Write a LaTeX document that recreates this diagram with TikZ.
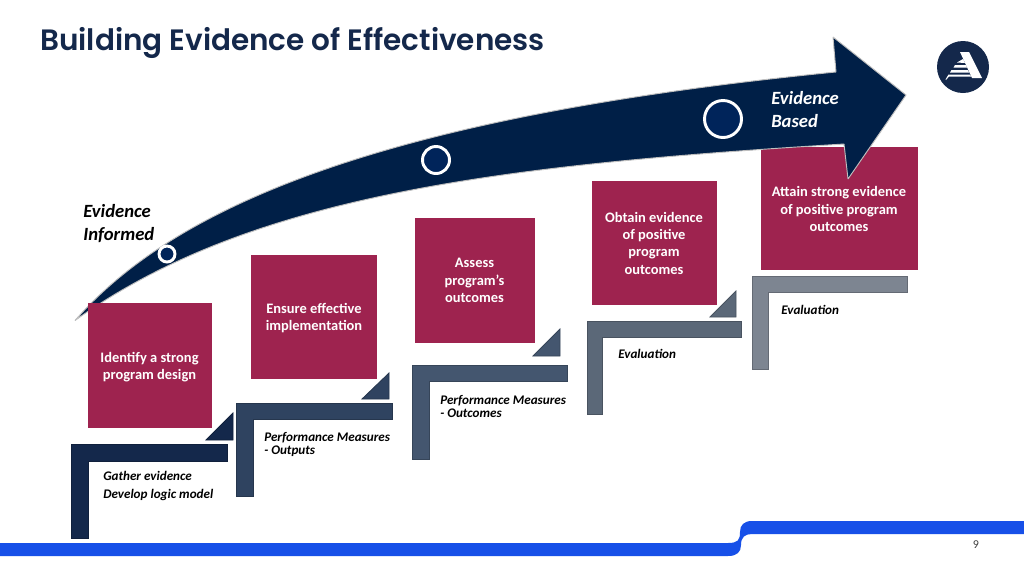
\documentclass[tikz,border=0pt]{standalone}
\usepackage{fontspec}
\setmainfont{Carlito}
\newfontfamily\titlefont{Poppins}[BoldFont={Poppins SemiBold}]
\definecolor{navy}{HTML}{001F47}
\definecolor{ttl}{HTML}{14284B}
\definecolor{wine}{HTML}{9E234F}
\definecolor{band}{HTML}{1750E8}
\definecolor{stepa}{HTML}{14284B}
\definecolor{stepb}{HTML}{2F4360}
\definecolor{stepc}{HTML}{44566F}
\definecolor{stepd}{HTML}{5B6878}
\definecolor{stepe}{HTML}{7D8591}
\definecolor{dotfill}{HTML}{00245A}
\tikzset{
  box/.style={fill=wine},
  boxtext/.style={text=white,font=\fontsize{10.85}{13}\selectfont\bfseries,align=center},
  steplabel/.style={text=black,font=\fontsize{9.85}{9.8}\selectfont\bfseries\itshape,align=left,anchor=north west,inner sep=0pt},
  biglabel/.style={font=\fontsize{14}{17.3}\selectfont\bfseries\itshape,align=left,anchor=north west,inner sep=0pt},
  dot/.style={draw=white,line width=2.2pt,fill=dotfill},
  ell/.style={fill=#1,draw=#1!80!black,line width=.6pt},
}
\begin{document}
\begin{tikzpicture}[x=0.75pt,y=-0.75pt]
\useasboundingbox (0,0) rectangle (1024,576);
\fill[white] (0,0) rectangle (1024,576);
% title
\node[anchor=west,inner sep=0pt,text=ttl,font=\titlefont\fontsize{22.1}{26}\selectfont\bfseries] (title) at (40,43) {Building Evidence of Effectiveness};
% bottom band
\fill[band] (0,543) -- (728,543) .. controls (738,543) and (740,540) .. (740,532) .. controls (740,525) and (744,521) .. (752,521) -- (1024,521) -- (1024,534) -- (752,534) .. controls (745,534) and (741,537) .. (741,545) .. controls (741,552) and (737,556) .. (728,556) -- (0,556) -- cycle;
\node[font=\fontsize{9}{11}\selectfont,text=black!75] (pageno) at (976,544.5) {9};
% red boxes behind the arrow
\fill[box] (251,255) rectangle (377,379);
\fill[box] (415,218) rectangle (535,343);
\fill[box] (592,181) rectangle (717,305);
\fill[box] (761,147) rectangle (918,270);
% arrow
\draw[fill=navy,draw=black!25,line width=.7pt,line join=bevel]
 (75,320.5) .. controls (180,200) and (400,115) .. (836,72) -- (833,37) -- (906,95) -- (848,179) -- (844,144) .. controls (500,165) and (250,195) .. (75,320.5) -- cycle;
\fill[box] (88,303) rectangle (212,428);
\node[boxtext] (b1) at (149.5,367) {Identify a strong\\program design};
\node[boxtext] (b2) at (314,318) {Ensure effective\\implementation};
\node[boxtext] (b3) at (474.5,280.5) {Assess\\program’s\\outcomes};
\node[boxtext] (b4) at (654,243) {Obtain evidence\\of positive\\program\\outcomes};
\node[boxtext] (b5) at (839,209) {Attain strong evidence\\of positive program\\outcomes};
\draw[dot] (167,254) circle (8);
\draw[dot] (436,160) circle (13.5);
\draw[dot] (723,119) circle (18.5);
\node[biglabel,text=white] (lbased) at (771,91) {Evidence\\Based};
\node[biglabel,text=black] (linformed) at (83,204) {Evidence\\Informed};
% steps
\path[ell=stepa] (71,444) -- (227,444) -- (227,461) -- (88,461) -- (88,538) -- (71,538) -- cycle;
\path[ell=stepa] (233,413) -- (233,440) -- (206,440) -- cycle;
\path[ell=stepb] (236,403) -- (392,403) -- (392,419) -- (253,419) -- (253,496) -- (236,496) -- cycle;
\path[ell=stepb] (389,373) -- (389,399) -- (362,399) -- cycle;
\path[ell=stepc] (412,365) -- (567,365) -- (567,381) -- (429,381) -- (429,459) -- (412,459) -- cycle;
\path[ell=stepc] (560,329) -- (560,356) -- (533,356) -- cycle;
\path[ell=stepd] (587,321) -- (741,321) -- (741,337) -- (602,337) -- (602,414) -- (587,414) -- cycle;
\path[ell=stepd] (736,291) -- (736,317) -- (710,317) -- cycle;
\path[ell=stepe] (752,276) -- (907,276) -- (907,292) -- (768,292) -- (768,369) -- (752,369) -- cycle;
% step labels
\node[steplabel] (s1) at (103,471.5) {Gather evidence\\[3pt]Develop logic model};
\node[steplabel] (s2) at (264,432) {Performance Measures\\- Outputs};
\node[steplabel] (s3) at (440,395.5) {Performance Measures\\- Outcomes};
\node[steplabel] (s4) at (618,349) {Evaluation};
\node[steplabel] (s5) at (781,305.5) {Evaluation};
% logo
\fill[ttl] (963,67) circle (26);
\fill[white] (960,52) -- (969,52) -- (982,78) -- (972,78) -- cycle;
\fill[white] (957,62.5) -- (963,59) -- (965,63) -- cycle;
\fill[white] (955,65) -- (966,65) -- (967,67.5) -- (953.5,67.5) -- cycle;
\fill[white] (951.5,70) -- (968,70) -- (969,72.5) -- (950,72.5) -- cycle;
\fill[white] (948.5,74.5) -- (970,74.5) -- (971,76.5) -- (949,76.5) -- (946,80) -- (945.5,79.5) -- cycle;
\end{tikzpicture}
\end{document}
